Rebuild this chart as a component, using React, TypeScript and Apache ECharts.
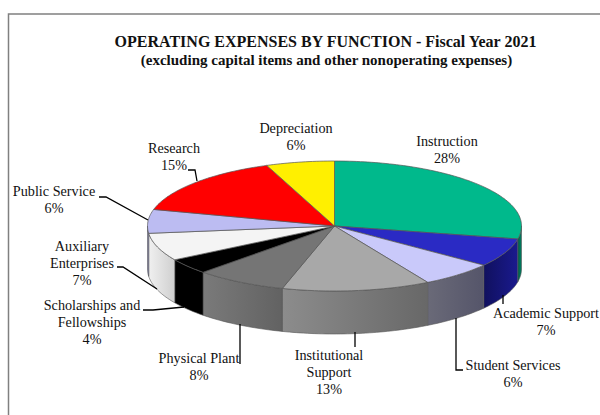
import React, { useEffect, useRef } from "react";
import * as echarts from "echarts";

const titleLines = [
  "OPERATING EXPENSES BY FUNCTION - Fiscal Year 2021",
  "(excluding capital items and other nonoperating expenses)",
];
const categories = [
  "Instruction", "Academic Support", "Student Services", "Institutional Support", "Physical Plant",
  "Scholarships and Fellowships", "Auxiliary Enterprises", "Public Service", "Research", "Depreciation",
];
const shares = [28.2, 7.1, 6.4, 12.8, 7.9, 3.9, 6.9, 5.9, 15.0, 5.9];
const percentLabels = ["28%", "7%", "6%", "13%", "8%", "4%", "7%", "6%", "15%", "6%"];
const topColors = ["#00B98C", "#2A2AC4", "#C9C9FA", "#A8A8A8", "#757575", "#000000", "#F4F4F4", "#BCBCF2", "#FF0000", "#FFF000"];
const sideColors = [
  ["#007F62", "#005A46"], ["#1A1A8E", "#10105E"], ["#55556A", "#6A6A78"], ["#686868", "#8C8C8C"], ["#626262", "#7A7A7A"],
  ["#000000", "#000000"], ["#CFCFCF", "#F0F0F0"], ["#9090C0", "#9090C0"], ["#A00000", "#A00000"], ["#A09000", "#A09000"],
];

// label layout: [centre x, first line centre y, lines]
const labelLayout: [number, number, string[]][] = [
  [447, 141, ["Instruction"]],
  [546, 313, ["Academic Support"]],
  [513, 365, ["Student Services"]],
  [329, 355, ["Institutional", "Support"]],
  [199, 358, ["Physical Plant"]],
  [92, 305, ["Scholarships and", "Fellowships"]],
  [82, 246, ["Auxiliary", "Enterprises"]],
  [54, 191, ["Public Service"]],
  [174, 148, ["Research"]],
  [296, 128, ["Depreciation"]],
];
const leaders: number[][][] = [
  [[503, 295], [503, 304]],
  [[456, 318], [456, 370], [463, 370]],
  [[355, 332], [355, 347]],
  [[240, 324], [240, 364]],
  [[143, 310], [153, 310], [184, 307]],
  [[117, 267], [123, 267], [157, 289]],
  [[99, 197], [106, 197], [148, 220]],
  [[188, 170], [195, 170], [197, 181]],
];

const CX = 334.5, CY = 226, RX = 187, RY = 65, DEPTH = 43;
const FONT = '"Liberation Serif", "Times New Roman", serif';

function pt(a: number, dy = 0): number[] {
  return [CX + RX * Math.sin(a), CY - RY * Math.cos(a) + dy];
}
function arc(a0: number, a1: number, dy = 0): number[][] {
  const n = Math.max(2, Math.ceil(Math.abs(a1 - a0) / 0.02));
  const out: number[][] = [];
  for (let i = 0; i <= n; i++) out.push(pt(a0 + ((a1 - a0) * i) / n, dy));
  return out;
}

export default function App() {
  const ref = useRef<HTMLDivElement>(null);
  useEffect(() => {
    const chart = echarts.init(ref.current!, undefined, { renderer: "svg" });
    const total = shares.reduce((s, v) => s + v, 0);
    let c = 0;
    const rows = shares.map((v, i) => {
      const start = (c / total) * Math.PI * 2;
      c += v;
      return { name: categories[i], value: [i, start, (c / total) * Math.PI * 2, v] };
    });
    const graphics: any[] = [
      { type: "polyline", shape: { points: [[8.5, 415], [8.5, 14], [600, 14]] }, style: { stroke: "#808080", lineWidth: 1.5, fill: "none" } },
    ];
    titleLines.forEach((t, i) =>
      graphics.push({ type: "text", x: i === 0 ? 325.5 : 326.5, y: 41 + i * 19, style: { text: t, font: `bold ${i === 0 ? 16 : 15}px ${FONT}`, fill: "#111", align: "center", verticalAlign: "middle" } })
    );
    leaders.forEach((p) => graphics.push({ type: "polyline", z: 5, shape: { points: p }, style: { stroke: "#000", lineWidth: 1.3, fill: "none" } }));
    labelLayout.forEach(([x, y, lines], i) => {
      [...lines, percentLabels[i]].forEach((t, k) =>
        graphics.push({ type: "text", x, y: y + k * 17, style: { text: t, font: `14.2px ${FONT}`, fill: "#111", align: "center", verticalAlign: "middle" } })
      );
    });
    chart.setOption({
      animation: false,
      backgroundColor: "#fff",
      graphic: graphics,
      series: [
        {
          type: "custom",
          coordinateSystem: "none",
          data: rows,
          silent: true,
          renderItem: (_p: any, api: any) => {
            const i = api.value(0), a0 = api.value(1), a1 = api.value(2);
            const children: any[] = [];
            const s0 = Math.max(a0, Math.PI / 2), s1 = Math.min(a1, (Math.PI * 3) / 2);
            if (s1 > s0) {
              const pts = [...arc(s0, s1), ...arc(s1, s0, DEPTH)];
              const xs = [pt(s0)[0], pt(s1)[0]];
              children.push({
                type: "polygon",
                shape: { points: pts },
                z2: 1,
                style: {
                  fill: new echarts.graphic.LinearGradient(xs[0] < xs[1] ? 0 : 1, 0, xs[0] < xs[1] ? 1 : 0, 0, [
                    { offset: 0, color: sideColors[i][0] },
                    { offset: 1, color: sideColors[i][1] },
                  ]),
                  stroke: "#555",
                  lineWidth: 0.6,
                },
              });
            }
            children.push({
              type: "polygon",
              shape: { points: [[CX, CY], ...arc(a0, a1)] },
              z2: 2,
              style: { fill: topColors[i], stroke: "#555", lineWidth: 0.7 },
            });
            return { type: "group", children };
          },
        },
      ],
    });
    return () => chart.dispose();
  }, []);
  return <div ref={ref} style={{ position: "absolute", left: 0, top: 0, width: 600, height: 415 }} />;
}
